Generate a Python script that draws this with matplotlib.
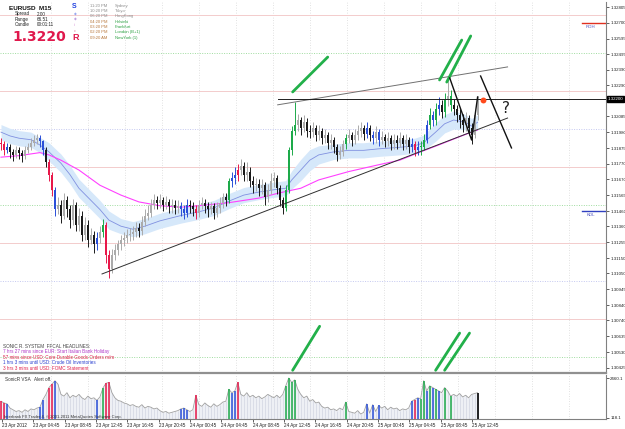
"""Rebuild the EURUSD M15 Sonic R screenshot as a static figure."""
from __future__ import annotations

import matplotlib

matplotlib.use("Agg")
import matplotlib.pyplot as plt

FIG_W, FIG_H = 625, 429
plt.rcParams["font.family"] = ["Liberation Sans", "DejaVu Sans"]

# prices are stored as pips above 1.3000, one entry per bar
closes = [190, 186, 188, 185, 183, 186, 184, 182, 186, 188,
          191, 193, 194, 192, 186, 178, 170, 160, 147, 150,
          143, 153, 147, 140, 150, 137, 143, 130, 137, 127,
          130, 124, 128, 132, 137, 117, 108, 117, 120, 124,
          127, 128, 130, 131, 132, 135, 133, 139, 143, 145,
          150, 153, 151, 153, 150, 152, 149, 150, 148, 149,
          147, 145, 150, 149, 147, 145, 150, 151, 149, 147,
          149, 145, 148, 151, 155, 153, 166, 168, 170, 173,
          176, 170, 172, 166, 163, 164, 161, 163, 155, 160,
          166, 168, 161, 153, 148, 160, 186, 199, 203, 206,
          201, 205, 199, 198, 201, 196, 199, 194, 196, 191,
          193, 188, 183, 185, 190, 194, 196, 193, 196, 199,
          201, 197, 201, 196, 194, 198, 193, 195, 192, 194,
          190, 193, 191, 194, 190, 193, 188, 190, 186, 188,
          188, 193, 203, 209, 206, 213, 216, 211, 219, 222,
          216, 213, 209, 206, 203, 207, 201, 196, 209, 220]
highs = [194, 192, 191, 190, 187, 189, 188, 186, 189, 191,
         194, 196, 197, 196, 193, 188, 180, 172, 162, 155,
         153, 158, 156, 150, 154, 152, 148, 146, 142, 140,
         135, 133, 132, 136, 141, 139, 120, 121, 124, 127,
         130, 132, 134, 135, 136, 139, 138, 143, 147, 150,
         154, 157, 156, 157, 155, 156, 154, 154, 153, 153,
         152, 150, 154, 153, 152, 150, 153, 155, 154, 152,
         152, 151, 152, 155, 158, 158, 168, 172, 175, 177,
         180, 178, 178, 175, 169, 168, 167, 167, 165, 164,
         171, 172, 170, 163, 155, 163, 188, 202, 218, 210,
         208, 209, 207, 203, 205, 203, 203, 201, 200, 198,
         197, 195, 190, 189, 193, 197, 200, 198, 200, 203,
         205, 203, 205, 203, 199, 202, 200, 199, 197, 198,
         196, 197, 196, 198, 196, 197, 195, 194, 192, 192,
         192, 197, 206, 214, 212, 217, 221, 219, 224, 234,
         226, 220, 216, 213, 210, 211, 209, 204, 212, 222]
lows = [186, 183, 184, 181, 179, 181, 180, 178, 180, 184,
        186, 189, 190, 188, 183, 175, 166, 156, 143, 144,
        138, 141, 142, 135, 137, 133, 133, 126, 127, 122,
        124, 118, 120, 125, 129, 112, 102, 105, 114, 117,
        120, 123, 125, 126, 127, 129, 129, 130, 136, 140,
        142, 147, 147, 148, 146, 147, 145, 145, 144, 145,
        143, 141, 142, 145, 143, 141, 142, 147, 145, 142,
        144, 141, 142, 145, 148, 149, 151, 162, 164, 166,
        170, 166, 166, 162, 158, 159, 156, 157, 150, 152,
        157, 162, 157, 149, 144, 146, 158, 183, 196, 199,
        196, 198, 195, 194, 195, 192, 193, 190, 191, 187,
        187, 184, 179, 180, 182, 187, 191, 189, 190, 193,
        195, 193, 194, 192, 190, 191, 189, 190, 188, 189,
        186, 187, 187, 188, 186, 187, 184, 185, 182, 183,
        183, 186, 191, 200, 202, 203, 209, 207, 208, 215,
        212, 209, 205, 201, 198, 199, 196, 190, 194, 206]
volumes = [1100, 1000, 950, 700, 600, 500, 550, 450, 600, 500,
           650, 600, 700, 750, 1200, 1500, 1900, 2100, 2300, 2100,
           1500, 1400, 1600, 1300, 1450, 1350, 1500, 1300, 1200, 1400,
           1250, 1300, 1150, 1350, 1870, 2150, 2200, 1600, 1300, 1150,
           1100, 1000, 950, 850, 900, 800, 750, 900, 700, 800,
           750, 650, 700, 550, 450, 500, 400, 450, 500, 550,
           650, 700, 600, 500, 600, 1450, 900, 800, 1000, 850,
           750, 950, 800, 900, 1050, 1100, 1800, 1600, 1700, 2200,
           1500, 1400, 1600, 1350, 1450, 1300, 1400, 1250, 1350, 1500,
           1400, 1300, 1450, 1300, 1500, 2000, 2460, 2200, 2350, 1800,
           1500, 1300, 1400, 1100, 1200, 1000, 1050, 800, 700, 750,
           600, 650, 550, 700, 600, 1050, 500, 450, 400, 550,
           350, 450, 950, 400, 900, 500, 850, 700, 800, 600,
           750, 650, 700, 550, 650, 600, 700, 1100, 1200, 1300,
           1250, 2300, 1700, 2000, 1900, 1800, 1700, 1600, 1900, 1700,
           1400, 1500, 1400, 1550, 1350, 1450, 1300, 1500, 1550, 1600]

# VSA-coloured bars
blue_bars = [2, 13, 14, 18, 32, 60, 61, 62, 77, 78, 122, 124, 126, 137, 139, 142, 144, 146]
red_bars = [0, 1, 16, 17, 35, 36, 65, 79, 138]
green_bars = [34, 76, 95, 96, 97, 98, 115, 140, 141, 143, 145, 148, 150]

# dragon band (EMA) and slow MA, read at knots
ema_idx = [0, 3, 6, 10, 13, 16, 20, 23, 26, 30, 33, 36, 40, 44, 48, 53, 60, 66, 71, 76,
           81, 86, 91, 95, 97, 100, 103, 106, 111, 116, 121, 126, 133, 138, 141, 145, 148,
           151, 155, 157, 159]
ema_pips = [198, 195.5, 194, 193, 189.5, 185, 177.5, 170, 161, 153, 147, 140, 136, 134, 136,
            139.5, 143, 145.5, 148, 152.5, 156.5, 158.5, 160, 161, 166.5, 173, 179.5, 183, 185,
            186, 186, 187, 188, 189, 191, 198, 203.5, 206, 204.5, 202, 204.5]
ema_band = [5, 5, 5, 5, 5, 6, 6, 6, 6, 6, 6, 6, 5, 5, 5, 5, 5, 5, 5, 5,
            5, 5, 5, 5, 6, 7, 7, 6, 5, 5, 5, 5, 5, 5, 5, 6, 6, 6, 5, 5, 5]
slow_idx = [0, 6, 13, 16, 20, 26, 33, 40, 46, 53, 60, 66, 76, 86, 93, 100, 106, 116, 126,
            133, 140, 146, 153, 159]
slow_pips = [181.5, 182.5, 184.5, 183, 179.5, 173, 163, 156.5, 152, 149.5, 148.5, 149.5,
             151.5, 154.5, 158, 161, 166.5, 172, 176.5, 179.5, 185, 189.5, 195, 199.5]

# hand-drawn chart objects: (bar, pips) pairs
upper_trend = [(92.3, 216), (169, 241)]
lower_trend = [(33.7, 104.5), (169, 207.3)]
green_strokes = [[(97.3, 224.5), (109, 247.5)], [(146.3, 232.4), (153.7, 258.7)],
                 [(148.7, 231), (156.7, 261.4)], [(97.3, 41), (106.3, 70)],
                 [(145, 41), (153, 65.5)], [(148, 41), (156.3, 65.5)]]
zigzag_a = [(149.7, 233.7), (157, 192.8), (159, 221.2)]
zigzag_b = [(160, 235), (170.3, 187.6)]
level_pips = [275, 250, 225, 200, 175, 150, 125, 100, 75, 50]
level_colors = ["#f3cccc", "#9fdc9f", "#f3cccc", "#c4c8f0", "#f3cccc",
                "#9fdc9f", "#f3cccc", "#c4c8f0", "#f3cccc", "#9fdc9f"]

price_ticks = ["1.32805", "1.32700", "1.32595", "1.32495", "1.32390", "1.32290", "1.32185",
               "1.32085", "1.31980", "1.31875", "1.31770", "1.31670", "1.31565", "1.31460",
               "1.31360", "1.31255", "1.31150", "1.31050", "1.30945", "1.30840", "1.30740",
               "1.30635", "1.30530", "1.30425"]
time_labels = ["23 Apr 2012", "23 Apr 04:45", "23 Apr 08:45", "23 Apr 12:45", "23 Apr 16:45",
               "23 Apr 20:45", "24 Apr 00:45", "24 Apr 04:45", "24 Apr 08:45", "24 Apr 12:45",
               "24 Apr 16:45", "24 Apr 20:45", "25 Apr 00:45", "25 Apr 04:45", "25 Apr 08:45",
               "25 Apr 12:45"]
LABEL_STEP = 10.45  # bars between time labels
CURRENT = 220
RDH, KDL = 270, 146

sessions = [("11:20 PM", "Sydney"), ("10:20 PM", "Tokyo"), ("06:20 PM", "HongKong"),
            ("04:20 PM", "Helsinki"), ("03:20 PM", "Frankfurt"), ("02:20 PM", "London (B+1)"),
            ("09:20 AM", "NewYork (1)")]
headlines = [("SONIC R. SYSTEM  FFCAL HEADLINES:", "#404040"),
             ("7 hrs 27 mins since EUR: Start Italian Bank Holiday", "#b038c8"),
             ("57 mins since USD: Core Durable Goods Orders m/m", "#e0204a"),
             ("1 hrs 3 mins until USD: Crude Oil Inventories", "#2a40d0"),
             ("3 hrs 3 mins until USD: FOMC Statement", "#e0204a")]


def px_rect(x0, y0, x1, y1):
    return [x0 / FIG_W, 1 - y1 / FIG_H, (x1 - x0) / FIG_W, (y1 - y0) / FIG_H]


def bar_color(i, up):
    if i in blue_bars:
        return "#2a4fd8"
    if i in red_bars:
        return "#e8184a"
    if i in green_bars:
        return "#1daa4a"
    return "#ababab" if up else "#1a1a1a"


def draw_price(ax):
    n = len(closes)
    x_right = 605.5 / 3
    ax.set_xlim(-1 / 3, x_right)
    ax.set_ylim(39.2, 283.8)
    for grid_x in range(51, 600, 37):
        ax.axvline((grid_x - 1) / 3, color="#d8d8d8", lw=0.6, ls=(0, (1, 2)), zorder=0)
    for level, col in zip(level_pips, level_colors):
        ls = "-" if col == "#f3cccc" else (0, (1, 1.5))
        ax.axhline(level, color=col, lw=0.7, ls=ls, zorder=0)

    ex = ema_idx
    ax.fill_between(ex, [p + b for p, b in zip(ema_pips, ema_band)],
                    [p - b for p, b in zip(ema_pips, ema_band)], color="#d6e8fa", lw=0, zorder=1)
    ax.plot(ex, ema_pips, color="#8090e0", lw=0.6, zorder=2)
    ax.plot(slow_idx, slow_pips, color="#ff40ff", lw=0.8, zorder=2)

    for i in range(n):
        open_ = closes[i - 1] if i else closes[i]
        up = closes[i] >= open_
        col = bar_color(i, up)
        ax.vlines(i, lows[i], highs[i], color=col, lw=0.7, zorder=3)
        lo, hi = sorted((open_, closes[i]))
        ax.bar(i, max(hi - lo, 0.6), bottom=lo, width=0.62, color=col, lw=0, zorder=3)

    (x0, y0), (x1, y1) = upper_trend
    ax.plot([x0, x1], [y0, y1], color="#707070", lw=0.7, zorder=4)
    (x0, y0), (x1, y1) = lower_trend
    ax.plot([x0, x1], [y0, y1], color="#303030", lw=0.7, zorder=4)
    ax.plot([92.3, x_right], [CURRENT, CURRENT], color="#202020", lw=0.7, zorder=4)
    for stroke in green_strokes:
        ax.plot(*zip(*stroke), color="#22b04a", lw=2.0, solid_capstyle="round", zorder=5)
    ax.plot(*zip(*zigzag_a), color="#111111", lw=1.0, zorder=5)
    ax.plot(*zip(*zigzag_b), color="#111111", lw=1.0, zorder=5)
    ax.scatter([160.7], [219.5], s=18, color="#ff4a1c", zorder=6, lw=0)
    ax.text(168.3, 213.5, "?", fontsize=11, ha="center", va="center", color="#202020",
            family="DejaVu Sans", zorder=6)

    ax.plot([193.7, 201.4], [RDH, RDH], color="#e03020", lw=1.0)
    ax.text(195, RDH - 1.2, "RDH", fontsize=3.2, color="#4a50c0", va="top")
    ax.plot([193.7, 201.4], [KDL, KDL], color="#3040c0", lw=1.0)
    ax.text(195.5, KDL - 1.2, "KDL", fontsize=3.2, color="#4a50c0", va="top")

    ax.yaxis.tick_right()
    ax.set_yticks([(float(t) - 1.3) * 1e4 for t in price_ticks])
    ax.set_yticklabels(price_ticks)
    ax.tick_params(axis="y", labelsize=3.2, length=2, width=0.5, pad=1, colors="#202020")
    ax.set_xticks([])
    ax.text(1.003, CURRENT, "1.32200", transform=ax.get_yaxis_transform(), fontsize=3.2,
            color="white", va="center", ha="left", zorder=10,
            bbox=dict(boxstyle="square,pad=0.2", fc="black", ec="black"))
    for side in ("top", "left"):
        ax.spines[side].set_visible(False)
    ax.spines["right"].set_color("#808080")
    ax.spines["bottom"].set_color("#909090")
    ax.spines["bottom"].set_linewidth(1.6)


def draw_volume(ax):
    n = len(volumes)
    idx = list(range(n))
    ax.set_xlim(-1 / 3, 605.5 / 3)
    ax.set_ylim(59.5, 2635.8)
    for grid_x in range(51, 600, 37):
        ax.axvline((grid_x - 1) / 3, color="#d8d8d8", lw=0.6, ls=(0, (1, 2)), zorder=0)
    ax.fill_between(idx, volumes, 0, color="#eef0f5", lw=0, zorder=1)
    ax.vlines(idx, 0, volumes, color="#d2d6e2", lw=0.5, zorder=1)
    ax.plot(idx, volumes, color="#a0a0a0", lw=0.6, zorder=2)
    for i in range(n):
        if i in blue_bars or i in red_bars or i in green_bars:
            ax.vlines(i, 0, volumes[i], color=bar_color(i, True), lw=1.1, zorder=3)
    ax.vlines(n - 1, 0, volumes[-1], color="black", lw=1.2, zorder=3)
    ax.text(1.5, 2500, "SonicR VSA   Alert off.", fontsize=3.3, color="#303030", va="top")
    ax.text(1.0, 60, "Interbank FX Trader 4, © 2001-2011 MetaQuotes Software Corp.",
            fontsize=3.0, color="#303030", va="bottom")

    ax.yaxis.tick_right()
    ax.set_yticks([2460.1, 118.1])
    ax.set_yticklabels(["2460.1", "118.1"])
    ax.tick_params(axis="y", labelsize=3.2, length=2, width=0.5, pad=1, colors="#202020")
    ax.set_xticks([0.33 + k * LABEL_STEP for k in range(len(time_labels))])
    ax.set_xticklabels(time_labels, ha="left")
    ax.tick_params(axis="x", labelsize=3.3, length=2, width=0.5, pad=1, colors="#202020")
    for side in ("top", "left"):
        ax.spines[side].set_visible(False)
    ax.spines["right"].set_color("#808080")
    ax.spines["bottom"].set_color("#808080")


def draw_overlays(fig):
    def put(x, y, s, **kw):
        fig.text(x / FIG_W, 1 - y / FIG_H, s, va="center", **kw)

    put(9, 8, "EURUSD  M15", fontsize=4.6, weight="bold", color="#111111")
    put(15, 14, "Spread", fontsize=3.3, color="#202020")
    put(37, 14, "2.00", fontsize=3.3, color="#202020")
    put(15, 19.5, "Range", fontsize=3.3, color="#202020")
    put(37, 19.5, "66.51", fontsize=3.3, color="#202020")
    put(15, 25, "Candle", fontsize=3.3, color="#202020")
    put(37, 25, "00:01:11", fontsize=3.3, color="#202020")
    put(12, 37, "1.3220", fontsize=10, weight="bold", color="#e0184c", family="DejaVu Sans")
    put(72, 6, "S", fontsize=5, weight="bold", color="#2040e0")
    put(72.5, 37, "R", fontsize=6.5, weight="bold", color="#e0184c")
    for k, mark in enumerate(["◆", "◆", "i", "c"]):
        put(73.5, 14 + k * 5.5, mark, fontsize=2.6, color=["#9aa8f0", "#c0a0e0", "#d080d0", "#e07090"][k],
            family="DejaVu Sans")
    for k, (clock, city) in enumerate(sessions):
        y = 5.7 + k * 5.35
        clock_col = "#8c8c8c" if k < 3 else "#b8783c"
        city_col = "#8c8c8c" if k < 3 else "#2aa040"
        put(90, y, clock, fontsize=3.0, color=clock_col)
        put(115, y, city, fontsize=3.0, color=city_col)
    for k, (line, col) in enumerate(headlines):
        put(3, 346 + k * 5.6, line, fontsize=3.3, color=col)


def main():
    fig = plt.figure(figsize=(FIG_W / 100, FIG_H / 100), dpi=100)
    fig.patch.set_facecolor("white")
    price_ax = fig.add_axes(px_rect(0, 2, 606, 373))
    volume_ax = fig.add_axes(px_rect(0, 375, 606, 419))
    draw_price(price_ax)
    draw_volume(volume_ax)
    draw_overlays(fig)
    fig.savefig("out.png", dpi=100)
    plt.close(fig)


if __name__ == "__main__":
    main()
